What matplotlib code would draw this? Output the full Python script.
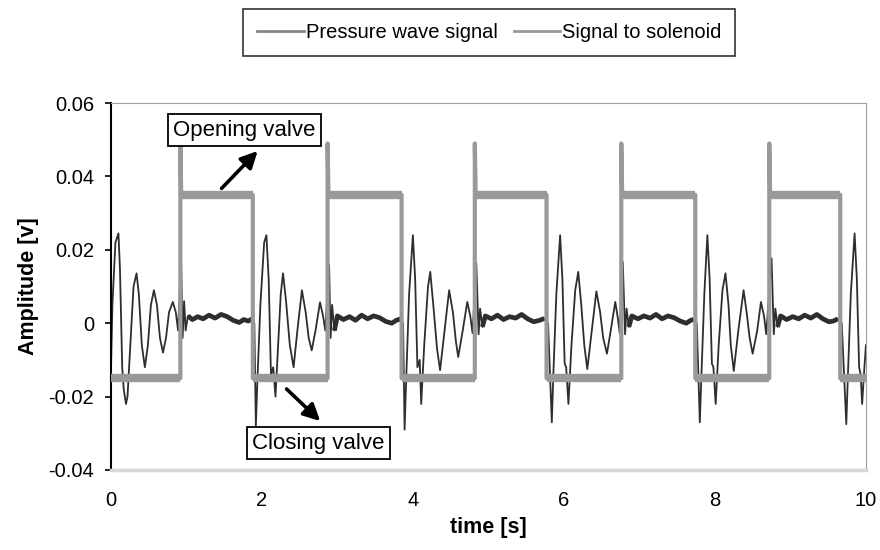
import numpy as np
import matplotlib
matplotlib.use('Agg')
import matplotlib.pyplot as plt
from matplotlib.lines import Line2D

plt.rcParams['font.family'] = ['Liberation Sans', 'DejaVu Sans']

# Solenoid switching instants [s] and levels [V]
rise_times = [0.92, 2.87, 4.82, 6.76, 8.72]
fall_times = [1.88, 3.85, 5.77, 7.74, 9.66]
sol_low = -0.015
sol_high = 0.035
sol_spike = 0.049

# Pressure wave signal, vertices
p_time = [
    0.00, 0.02, 0.06, 0.10, 0.12, 0.15, 0.17, 0.20, 0.22, 0.26, 0.30, 0.34, 0.37,
    0.41, 0.45, 0.49, 0.53, 0.57, 0.61, 0.65, 0.69, 0.73, 0.77, 0.82, 0.86, 0.89,
    0.93, 0.95, 0.97, 0.99, 1.02, 1.08, 1.15, 1.22, 1.30, 1.38, 1.46, 1.54, 1.62,
    1.70, 1.76, 1.82, 1.87,
    1.90, 1.92, 1.94, 1.98, 2.03, 2.06, 2.09, 2.12, 2.15, 2.18, 2.21, 2.25, 2.28,
    2.32, 2.37, 2.42, 2.47, 2.53, 2.58, 2.62, 2.66, 2.71, 2.77, 2.81, 2.84,
    2.89, 2.91, 2.93, 2.96, 3.00, 3.08, 3.16, 3.24, 3.32, 3.40, 3.48, 3.56, 3.64,
    3.72, 3.78, 3.84,
    3.87, 3.89, 3.91, 3.95, 4.00, 4.03, 4.06, 4.09, 4.11, 4.15, 4.20, 4.23, 4.27,
    4.32, 4.36, 4.42, 4.48, 4.53, 4.57, 4.60, 4.66, 4.72, 4.76, 4.79,
    4.84, 4.87, 4.89, 4.92, 4.96, 5.04, 5.12, 5.20, 5.28, 5.36, 5.44, 5.52, 5.60,
    5.68, 5.74,
    5.79, 5.84, 5.86, 5.90, 5.95, 5.98, 6.01, 6.03, 6.06, 6.10, 6.15, 6.19, 6.23,
    6.27, 6.31, 6.37, 6.43, 6.48, 6.52, 6.57, 6.62, 6.68, 6.71, 6.74,
    6.78, 6.81, 6.83, 6.86, 6.90, 6.98, 7.06, 7.14, 7.22, 7.30, 7.38, 7.46, 7.54,
    7.62, 7.68, 7.72,
    7.76, 7.80, 7.82, 7.86, 7.90, 7.93, 7.96, 7.98, 8.01, 8.05, 8.10, 8.14, 8.18,
    8.21, 8.25, 8.31, 8.38, 8.42, 8.46, 8.50, 8.56, 8.61, 8.65, 8.68,
    8.75, 8.78, 8.80, 8.83, 8.87, 8.95, 9.03, 9.11, 9.19, 9.27, 9.35, 9.43, 9.51,
    9.57, 9.63,
    9.68, 9.74, 9.76, 9.80, 9.85, 9.88, 9.91, 9.93, 9.95, 9.98, 10.00,
]
p_value = [
    -0.014, 0.005, 0.022, 0.0245, 0.015, -0.012, -0.018, -0.022, -0.020, -0.005, 0.010, 0.0136, 0.008,
    -0.006, -0.012, -0.006, 0.005, 0.009, 0.005, -0.004, -0.008, -0.004, 0.003, 0.0058, 0.003, -0.002,
    0.017, -0.004, 0.006, -0.002, 0.002, 0.001, 0.0018, 0.0012, 0.0022, 0.0014, 0.0024, 0.0018, 0.0008,
    0.0002, 0.001, 0.0006, 0.0012,
    0.000, -0.028, -0.016, 0.005, 0.022, 0.024, 0.012, -0.014, -0.012, -0.020, -0.008, 0.008, 0.0136,
    0.006, -0.006, -0.012, -0.002, 0.009, 0.003, -0.004, -0.0074, -0.002, 0.0057, 0.002, -0.002,
    0.016, -0.004, 0.005, -0.002, 0.002, 0.001, 0.0018, 0.0008, 0.0022, 0.0012, 0.002, 0.0015, 0.0005,
    0.000, 0.0008, 0.0012,
    0.000, -0.029, -0.016, 0.008, 0.024, 0.012, -0.012, -0.010, -0.022, -0.006, 0.010, 0.014, 0.005,
    -0.007, -0.0128, -0.002, 0.009, 0.003, -0.005, -0.0092, -0.002, 0.0058, 0.002, -0.0027,
    0.0163, -0.003, 0.004, -0.001, 0.002, 0.0012, 0.0022, 0.001, 0.0018, 0.0014, 0.0024, 0.0012, 0.0004,
    0.0008, 0.0013,
    0.000, -0.027, -0.014, 0.008, 0.024, 0.012, -0.011, -0.012, -0.022, -0.006, 0.009, 0.014, 0.005,
    -0.006, -0.0125, -0.002, 0.0087, 0.003, -0.004, -0.0083, -0.002, 0.0058, 0.002, -0.0027,
    0.0167, -0.003, 0.004, -0.001, 0.002, 0.0012, 0.002, 0.0014, 0.0024, 0.0012, 0.002, 0.0015, 0.0006,
    0.000, 0.0008, 0.001,
    0.000, -0.027, -0.015, 0.008, 0.024, 0.012, -0.011, -0.012, -0.022, -0.006, 0.009, 0.0136, 0.005,
    -0.006, -0.013, -0.002, 0.009, 0.003, -0.004, -0.0083, -0.002, 0.0058, 0.002, -0.003,
    0.0177, -0.003, 0.004, -0.001, 0.002, 0.001, 0.0018, 0.0012, 0.0022, 0.0014, 0.0024, 0.0012, 0.0004,
    0.0006, 0.0012,
    0.000, -0.0275, -0.015, 0.008, 0.0245, 0.012, -0.012, -0.014, -0.022, -0.012, -0.006,
]

# build the solenoid trace from the switching instants
s_time = [0.0]
s_value = [sol_low]
for tr, tf in zip(rise_times, fall_times):
    s_time += [tr, tr, tr + 0.012, tf, tf]
    s_value += [sol_low, sol_spike, sol_high, sol_high, sol_low]
s_time.append(10.0)
s_value.append(sol_low)

fig = plt.figure(figsize=(8.8, 5.5), dpi=100)
ax = fig.add_axes([0.126, 0.1455, 0.858, 0.667])

pt = np.array(p_time)
pv = np.array(p_value)
ax.plot(pt, pv, color='#2e2e2e', lw=1.3, zorder=2)
# the flat, noisy part of the pressure trace looks heavier
for tr, tf in zip(rise_times, fall_times):
    m = (pt >= tr + 0.09) & (pt <= tf)
    ax.plot(pt[m], pv[m], color='#2e2e2e', lw=3.4, zorder=2, solid_capstyle='butt')

ax.plot(s_time, s_value, color='#999999', lw=3, zorder=3)
high_start = [t + 0.012 for t in rise_times]
ax.hlines([sol_high] * len(rise_times), high_start, fall_times,
          color='#999999', lw=6, zorder=3)
low_start = [0.0] + fall_times
low_end = rise_times + [10.0]
ax.hlines([sol_low] * len(low_start), low_start, low_end,
          color='#999999', lw=6, zorder=3)

ax.set_xlim(0, 10)
ax.set_ylim(-0.04, 0.06)
ax.set_xticks([0, 2, 4, 6, 8, 10])
ax.set_yticks([-0.04, -0.02, 0, 0.02, 0.04, 0.06])
ax.set_yticklabels(['-0.04', '-0.02', '0', '0.02', '0.04', '0.06'])

for s in ['top', 'right']:
    ax.spines[s].set_color('#a0a0a0')
    ax.spines[s].set_linewidth(0.8)
ax.spines['bottom'].set_color('#d8d8d8')
ax.spines['bottom'].set_linewidth(2.5)
ax.spines['left'].set_color('black')
ax.spines['left'].set_linewidth(1.5)

ax.tick_params(axis='x', length=0, pad=15, labelsize=14.5)
ax.tick_params(axis='y', direction='out', length=4, width=1.2, pad=8, labelsize=14.5)

ax.set_xlabel('time [s]', fontsize=15.5, fontweight='bold', labelpad=5)
ax.set_ylabel('Amplitude [v]', fontsize=15.5, fontweight='bold', labelpad=7)

box = dict(boxstyle='square,pad=0.25', facecolor='white', edgecolor='black', lw=1.3)
ax.text(1.77, 0.0526, 'Opening valve', fontsize=16, ha='center', va='center',
        bbox=box, zorder=6)
ax.annotate('', xy=(1.97, 0.0475), xytext=(1.44, 0.0362),
            arrowprops=dict(arrowstyle='-|>,head_length=1.0,head_width=0.5',
                            color='black', lw=2.6), zorder=5)
ax.text(2.75, -0.0327, 'Closing valve', fontsize=16, ha='center', va='center',
        bbox=box, zorder=6)
ax.annotate('', xy=(2.80, -0.0272), xytext=(2.30, -0.0174),
            arrowprops=dict(arrowstyle='-|>,head_length=1.0,head_width=0.5',
                            color='black', lw=2.6), zorder=6)

handles = [Line2D([], [], color='#858585', lw=2),
           Line2D([], [], color='#999999', lw=2)]
leg = fig.legend(handles, ['Pressure wave signal', 'Signal to solenoid'],
                 loc='center', bbox_to_anchor=(0.556, 0.941), ncol=2,
                 fontsize=14.5, frameon=True, fancybox=False,
                 handlelength=2.3, handletextpad=0.1, columnspacing=0.8,
                 borderpad=0.7)
leg.get_frame().set_edgecolor('black')
leg.get_frame().set_linewidth(1.2)

fig.savefig('out.png', dpi=100)
